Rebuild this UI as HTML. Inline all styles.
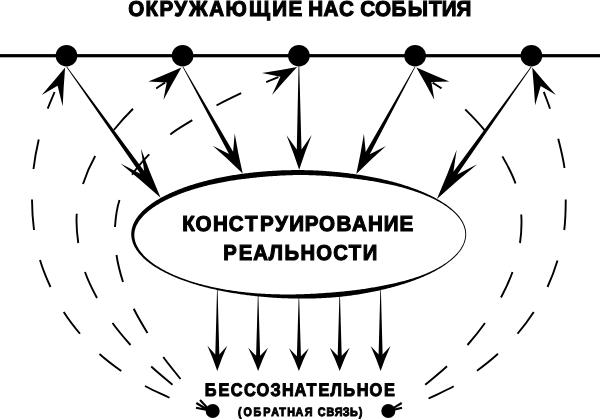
<!DOCTYPE html>
<html><head><meta charset="utf-8"><title>Конструирование реальности</title>
<style>
html,body{margin:0;padding:0;background:#fff;}
svg{display:block;}
text{font-family:"Liberation Sans",sans-serif;font-weight:bold;fill:#000;text-rendering:geometricPrecision;}
</style></head><body>
<svg width="600" height="419" viewBox="0 0 600 419">
<rect width="600" height="419" fill="#fff"/>
<g fill="#000">
<rect x="0" y="54.1" width="600" height="3.2" />
<circle cx="66.5" cy="55.7" r="10.8"/>
<circle cx="182.6" cy="55.7" r="10.8"/>
<circle cx="298.9" cy="55.7" r="10.8"/>
<circle cx="415.1" cy="55.7" r="10.8"/>
<circle cx="531.4" cy="55.7" r="10.8"/>
<path fill-rule="evenodd" d="M466.17,234.1 L466.16,233.56 L466.14,233.02 L466.1,232.49 L466.05,231.95 L465.99,231.41 L465.92,230.88 L465.84,230.34 L465.74,229.8 L465.63,229.27 L465.51,228.73 L465.37,228.2 L465.23,227.66 L465.07,227.13 L464.89,226.6 L464.71,226.06 L464.51,225.53 L464.3,225 L464.08,224.47 L463.85,223.94 L463.6,223.41 L463.35,222.88 L463.07,222.35 L462.79,221.82 L462.5,221.29 L462.19,220.77 L461.87,220.24 L461.54,219.72 L461.19,219.19 L460.84,218.67 L460.47,218.15 L460.09,217.63 L459.7,217.11 L459.29,216.59 L458.88,216.07 L458.45,215.56 L458.01,215.04 L457.55,214.53 L457.09,214.02 L456.61,213.5 L456.12,212.99 L455.62,212.49 L455.11,211.98 L454.58,211.47 L454.05,210.97 L453.5,210.47 L452.94,209.97 L452.37,209.47 L451.78,208.97 L451.19,208.48 L450.58,207.98 L449.96,207.49 L449.33,207 L448.69,206.51 L448.04,206.02 L447.38,205.54 L446.71,205.05 L446.02,204.57 L445.32,204.09 L444.62,203.61 L443.9,203.14 L443.17,202.66 L442.43,202.19 L441.68,201.72 L440.92,201.25 L440.15,200.78 L439.36,200.32 L438.57,199.85 L437.77,199.39 L436.95,198.94 L436.13,198.48 L435.29,198.03 L434.45,197.57 L433.59,197.12 L432.73,196.68 L431.85,196.23 L430.96,195.79 L430.07,195.35 L429.16,194.91 L428.25,194.48 L427.32,194.04 L426.38,193.62 L425.44,193.19 L424.48,192.76 L423.52,192.34 L422.55,191.92 L421.56,191.51 L420.57,191.09 L419.57,190.68 L418.56,190.27 L417.53,189.87 L416.5,189.47 L415.47,189.07 L414.42,188.67 L413.36,188.28 L412.3,187.89 L411.22,187.51 L410.14,187.13 L409.05,186.75 L407.95,186.37 L406.84,186 L405.72,185.64 L404.59,185.27 L403.46,184.91 L402.32,184.56 L401.17,184.21 L400.01,183.86 L398.85,183.51 L397.67,183.17 L396.49,182.84 L395.3,182.5 L394.11,182.17 L392.9,181.85 L391.69,181.53 L390.47,181.21 L389.25,180.9 L388.02,180.59 L386.78,180.29 L385.53,179.99 L384.28,179.69 L383.02,179.4 L381.76,179.11 L380.48,178.82 L379.21,178.55 L377.92,178.27 L376.63,178 L375.33,177.73 L374.03,177.47 L372.72,177.21 L371.41,176.95 L370.09,176.7 L368.77,176.46 L367.44,176.22 L366.1,175.98 L364.76,175.75 L363.41,175.52 L362.06,175.29 L360.71,175.07 L359.35,174.86 L357.98,174.65 L356.61,174.44 L355.24,174.24 L353.86,174.04 L352.48,173.85 L351.09,173.66 L349.7,173.48 L348.3,173.3 L346.9,173.12 L345.5,172.95 L344.09,172.79 L342.68,172.63 L341.27,172.47 L339.85,172.32 L338.44,172.17 L337.01,172.03 L335.59,171.89 L334.16,171.76 L332.73,171.63 L331.29,171.51 L329.86,171.39 L328.42,171.27 L326.98,171.16 L325.53,171.06 L324.09,170.96 L322.64,170.87 L321.19,170.78 L319.74,170.7 L318.29,170.62 L316.83,170.54 L315.38,170.48 L313.92,170.41 L312.46,170.36 L311,170.3 L309.54,170.26 L308.08,170.22 L306.62,170.18 L305.15,170.15 L303.69,170.12 L302.23,170.1 L300.76,170.09 L299.3,170.08 L297.84,170.07 L296.37,170.07 L294.91,170.08 L293.44,170.09 L291.98,170.1 L290.52,170.13 L289.06,170.15 L287.6,170.18 L286.14,170.22 L284.68,170.26 L283.22,170.31 L281.76,170.36 L280.3,170.42 L278.85,170.49 L277.4,170.55 L275.95,170.63 L274.5,170.71 L273.05,170.79 L271.61,170.88 L270.16,170.97 L268.72,171.07 L267.28,171.18 L265.85,171.29 L264.41,171.4 L262.98,171.52 L261.55,171.64 L260.13,171.77 L258.71,171.9 L257.29,172.04 L255.87,172.18 L254.46,172.33 L253.05,172.48 L251.64,172.64 L250.24,172.8 L248.84,172.97 L247.45,173.14 L246.06,173.31 L244.67,173.49 L243.29,173.68 L241.91,173.87 L240.54,174.06 L239.17,174.26 L237.8,174.46 L236.44,174.67 L235.09,174.88 L233.74,175.1 L232.39,175.32 L231.05,175.54 L229.71,175.77 L228.38,176.01 L227.06,176.24 L225.74,176.49 L224.43,176.73 L223.12,176.99 L221.82,177.24 L220.52,177.5 L219.23,177.77 L217.95,178.04 L216.67,178.31 L215.4,178.59 L214.14,178.87 L212.88,179.16 L211.62,179.45 L210.38,179.74 L209.14,180.04 L207.91,180.34 L206.68,180.65 L205.47,180.96 L204.26,181.27 L203.05,181.59 L201.86,181.92 L200.67,182.24 L199.49,182.57 L198.32,182.91 L197.15,183.25 L195.99,183.59 L194.84,183.93 L193.7,184.28 L192.57,184.64 L191.44,185 L190.32,185.36 L189.21,185.72 L188.11,186.09 L187.02,186.46 L185.94,186.84 L184.86,187.22 L183.79,187.6 L182.74,187.99 L181.69,188.38 L180.65,188.77 L179.62,189.17 L178.59,189.57 L177.58,189.98 L176.58,190.38 L175.58,190.79 L174.6,191.21 L173.63,191.63 L172.66,192.05 L171.7,192.47 L170.76,192.9 L169.82,193.33 L168.89,193.76 L167.98,194.2 L167.07,194.64 L166.17,195.08 L165.29,195.52 L164.41,195.97 L163.54,196.42 L162.69,196.87 L161.84,197.33 L161.01,197.79 L160.18,198.25 L159.37,198.71 L158.56,199.18 L157.77,199.65 L156.99,200.12 L156.22,200.59 L155.46,201.07 L154.71,201.55 L153.97,202.03 L153.24,202.51 L152.52,203 L151.82,203.49 L151.12,203.98 L150.44,204.47 L149.76,204.96 L149.1,205.46 L148.45,205.96 L147.81,206.46 L147.19,206.97 L146.57,207.47 L145.97,207.98 L145.37,208.49 L144.79,209 L144.22,209.51 L143.66,210.03 L143.12,210.55 L142.58,211.06 L142.06,211.59 L141.55,212.11 L141.05,212.63 L140.56,213.16 L140.08,213.68 L139.62,214.21 L139.17,214.75 L138.73,215.28 L138.3,215.81 L137.89,216.35 L137.49,216.88 L137.09,217.42 L136.72,217.96 L136.35,218.51 L136,219.05 L135.66,219.59 L135.33,220.14 L135.01,220.69 L134.71,221.23 L134.41,221.78 L134.13,222.33 L133.87,222.89 L133.61,223.44 L133.37,223.99 L133.14,224.55 L132.93,225.1 L132.73,225.66 L132.54,226.22 L132.36,226.78 L132.2,227.34 L132.05,227.9 L131.91,228.46 L131.78,229.02 L131.67,229.59 L131.57,230.15 L131.49,230.71 L131.42,231.28 L131.36,231.84 L131.31,232.41 L131.28,232.97 L131.26,233.53 L131.25,234.1 L131.26,234.67 L131.28,235.23 L131.31,235.79 L131.36,236.36 L131.42,236.92 L131.49,237.49 L131.57,238.05 L131.67,238.61 L131.78,239.18 L131.91,239.74 L132.05,240.3 L132.2,240.86 L132.36,241.42 L132.54,241.98 L132.73,242.54 L132.93,243.1 L133.14,243.65 L133.37,244.21 L133.61,244.76 L133.87,245.31 L134.13,245.87 L134.41,246.42 L134.71,246.97 L135.01,247.51 L135.33,248.06 L135.66,248.61 L136,249.15 L136.35,249.69 L136.72,250.24 L137.09,250.78 L137.49,251.32 L137.89,251.85 L138.3,252.39 L138.73,252.92 L139.17,253.45 L139.62,253.99 L140.08,254.52 L140.56,255.04 L141.05,255.57 L141.55,256.09 L142.06,256.61 L142.58,257.14 L143.12,257.65 L143.66,258.17 L144.22,258.69 L144.79,259.2 L145.37,259.71 L145.97,260.22 L146.57,260.73 L147.19,261.23 L147.81,261.74 L148.45,262.24 L149.1,262.74 L149.76,263.24 L150.44,263.73 L151.12,264.22 L151.82,264.71 L152.52,265.2 L153.24,265.69 L153.97,266.17 L154.71,266.65 L155.46,267.13 L156.22,267.61 L156.99,268.08 L157.77,268.55 L158.56,269.02 L159.37,269.49 L160.18,269.95 L161.01,270.41 L161.84,270.87 L162.69,271.33 L163.54,271.78 L164.41,272.23 L165.29,272.68 L166.17,273.12 L167.07,273.56 L167.98,274 L168.89,274.44 L169.82,274.87 L170.76,275.3 L171.7,275.73 L172.66,276.15 L173.63,276.57 L174.6,276.99 L175.58,277.41 L176.58,277.82 L177.58,278.22 L178.59,278.63 L179.62,279.03 L180.65,279.43 L181.69,279.82 L182.74,280.21 L183.79,280.6 L184.86,280.98 L185.94,281.36 L187.02,281.74 L188.11,282.11 L189.21,282.48 L190.32,282.84 L191.44,283.2 L192.57,283.56 L193.7,283.92 L194.84,284.27 L195.99,284.61 L197.15,284.95 L198.32,285.29 L199.49,285.63 L200.67,285.96 L201.86,286.28 L203.05,286.61 L204.26,286.93 L205.47,287.24 L206.68,287.55 L207.91,287.86 L209.14,288.16 L210.38,288.46 L211.62,288.75 L212.88,289.04 L214.14,289.33 L215.4,289.61 L216.67,289.89 L217.95,290.16 L219.23,290.43 L220.52,290.7 L221.82,290.96 L223.12,291.22 L224.43,291.47 L225.74,291.72 L227.06,291.97 L228.38,292.21 L229.71,292.44 L231.05,292.68 L232.39,292.91 L233.73,293.13 L235.08,293.35 L236.44,293.57 L237.8,293.78 L239.16,293.98 L240.53,294.19 L241.9,294.39 L243.28,294.58 L244.66,294.77 L246.05,294.96 L247.44,295.14 L248.83,295.31 L250.23,295.49 L251.63,295.65 L253.04,295.82 L254.45,295.98 L255.86,296.13 L257.27,296.28 L258.69,296.43 L260.12,296.57 L261.54,296.71 L262.97,296.84 L264.4,296.97 L265.83,297.09 L267.27,297.21 L268.71,297.32 L270.15,297.43 L271.59,297.54 L273.04,297.64 L274.48,297.73 L275.93,297.82 L277.38,297.91 L278.84,297.99 L280.29,298.07 L281.75,298.14 L283.21,298.2 L284.66,298.26 L286.12,298.32 L287.59,298.37 L289.05,298.42 L290.51,298.46 L291.97,298.5 L293.44,298.53 L294.9,298.56 L296.37,298.58 L297.83,298.6 L299.3,298.61 L300.77,298.62 L302.23,298.62 L303.7,298.62 L305.16,298.61 L306.63,298.6 L308.09,298.59 L309.56,298.56 L311.02,298.54 L312.48,298.51 L313.94,298.47 L315.4,298.42 L316.86,298.37 L318.32,298.32 L319.77,298.26 L321.23,298.19 L322.68,298.12 L324.13,298.04 L325.58,297.96 L327.03,297.87 L328.47,297.77 L329.92,297.67 L331.36,297.56 L332.8,297.45 L334.23,297.33 L335.66,297.2 L337.09,297.07 L338.52,296.94 L339.94,296.8 L341.36,296.65 L342.78,296.5 L344.19,296.34 L345.6,296.17 L347.01,296 L348.41,295.83 L349.81,295.65 L351.2,295.46 L352.59,295.27 L353.98,295.07 L355.36,294.87 L356.74,294.66 L358.11,294.45 L359.48,294.23 L360.84,294 L362.2,293.77 L363.55,293.54 L364.9,293.3 L366.24,293.06 L367.58,292.81 L368.91,292.56 L370.23,292.3 L371.55,292.04 L372.87,291.77 L374.18,291.5 L375.48,291.23 L376.78,290.95 L378.07,290.67 L379.36,290.39 L380.64,290.1 L381.91,289.8 L383.18,289.51 L384.44,289.21 L385.69,288.9 L386.94,288.6 L388.18,288.28 L389.41,287.97 L390.64,287.65 L391.86,287.33 L393.07,287 L394.28,286.67 L395.47,286.34 L396.67,286 L397.85,285.66 L399.02,285.32 L400.19,284.97 L401.35,284.62 L402.51,284.27 L403.65,283.91 L404.79,283.55 L405.92,283.19 L407.04,282.82 L408.15,282.45 L409.25,282.08 L410.35,281.7 L411.44,281.32 L412.52,280.93 L413.58,280.55 L414.65,280.15 L415.7,279.76 L416.74,279.36 L417.77,278.96 L418.8,278.55 L419.81,278.14 L420.82,277.73 L421.82,277.32 L422.8,276.9 L423.78,276.48 L424.75,276.05 L425.71,275.62 L426.66,275.19 L427.59,274.76 L428.52,274.32 L429.44,273.88 L430.35,273.44 L431.25,272.99 L432.14,272.54 L433.01,272.09 L433.88,271.64 L434.74,271.18 L435.59,270.72 L436.42,270.26 L437.25,269.8 L438.07,269.33 L438.87,268.86 L439.66,268.39 L440.45,267.92 L441.22,267.44 L441.98,266.97 L442.73,266.49 L443.47,266 L444.2,265.52 L444.92,265.03 L445.63,264.54 L446.32,264.05 L447,263.56 L447.68,263.07 L448.34,262.57 L448.99,262.07 L449.63,261.57 L450.25,261.07 L450.87,260.57 L451.47,260.06 L452.06,259.56 L452.64,259.05 L453.21,258.54 L453.77,258.03 L454.31,257.51 L454.85,257 L455.37,256.48 L455.88,255.97 L456.38,255.45 L456.86,254.93 L457.34,254.41 L457.8,253.89 L458.25,253.36 L458.68,252.84 L459.11,252.31 L459.52,251.79 L459.92,251.26 L460.31,250.73 L460.69,250.2 L461.05,249.67 L461.4,249.14 L461.74,248.61 L462.07,248.08 L462.38,247.54 L462.68,247.01 L462.97,246.47 L463.25,245.94 L463.51,245.4 L463.76,244.87 L464,244.33 L464.23,243.79 L464.44,243.26 L464.65,242.72 L464.84,242.18 L465.01,241.64 L465.18,241.1 L465.33,240.57 L465.47,240.03 L465.59,239.49 L465.71,238.95 L465.81,238.41 L465.9,237.87 L465.97,237.33 L466.04,236.79 L466.09,236.25 L466.13,235.72 L466.16,235.18 L466.17,234.64 Z M465.26,234.62 L465.25,235.14 L465.22,235.65 L465.19,236.17 L465.14,236.69 L465.08,237.21 L465.01,237.73 L464.92,238.25 L464.82,238.77 L464.72,239.29 L464.59,239.81 L464.46,240.33 L464.31,240.85 L464.16,241.37 L463.98,241.89 L463.8,242.41 L463.61,242.93 L463.4,243.45 L463.18,243.97 L462.95,244.49 L462.7,245.01 L462.44,245.53 L462.17,246.05 L461.89,246.57 L461.59,247.09 L461.29,247.6 L460.97,248.12 L460.63,248.64 L460.29,249.16 L459.93,249.67 L459.56,250.19 L459.17,250.7 L458.78,251.21 L458.37,251.72 L457.95,252.23 L457.52,252.74 L457.07,253.25 L456.62,253.76 L456.15,254.27 L455.66,254.77 L455.17,255.27 L454.66,255.77 L454.15,256.28 L453.62,256.77 L453.07,257.27 L452.52,257.77 L451.96,258.26 L451.38,258.76 L450.79,259.25 L450.19,259.74 L449.58,260.23 L448.96,260.72 L448.32,261.21 L447.68,261.69 L447.02,262.17 L446.35,262.65 L445.67,263.13 L444.98,263.6 L444.27,264.07 L443.56,264.54 L442.83,265.01 L442.09,265.47 L441.34,265.93 L440.57,266.39 L439.8,266.84 L439.02,267.29 L438.22,267.74 L437.41,268.18 L436.6,268.62 L435.77,269.06 L434.93,269.49 L434.08,269.92 L433.22,270.35 L432.35,270.77 L431.47,271.19 L430.57,271.61 L429.67,272.02 L428.76,272.43 L427.83,272.84 L426.9,273.24 L425.96,273.63 L425,274.02 L424.04,274.41 L423.07,274.8 L422.09,275.18 L421.09,275.55 L420.09,275.92 L419.08,276.29 L418.06,276.65 L417.03,277.01 L415.99,277.36 L414.94,277.71 L413.88,278.05 L412.82,278.39 L411.74,278.72 L410.66,279.05 L409.56,279.37 L408.46,279.69 L407.35,280.01 L406.24,280.32 L405.11,280.63 L403.98,280.93 L402.83,281.22 L401.68,281.52 L400.53,281.81 L399.36,282.09 L398.19,282.37 L397.01,282.65 L395.83,282.93 L394.64,283.2 L393.44,283.47 L392.23,283.74 L391.02,284 L389.8,284.26 L388.57,284.52 L387.34,284.78 L386.1,285.03 L384.86,285.28 L383.61,285.53 L382.35,285.77 L381.09,286.01 L379.82,286.25 L378.55,286.49 L377.27,286.72 L375.98,286.95 L374.69,287.18 L373.4,287.4 L372.1,287.62 L370.79,287.84 L369.48,288.05 L368.16,288.27 L366.84,288.47 L365.51,288.68 L364.18,288.88 L362.84,289.08 L361.5,289.27 L360.15,289.45 L358.8,289.64 L357.45,289.81 L356.09,289.98 L354.72,290.15 L353.35,290.32 L351.98,290.48 L350.6,290.64 L349.22,290.8 L347.84,290.95 L346.45,291.1 L345.06,291.24 L343.67,291.38 L342.27,291.52 L340.87,291.66 L339.47,291.79 L338.06,291.92 L336.65,292.04 L335.24,292.16 L333.82,292.29 L332.4,292.4 L330.98,292.52 L329.56,292.63 L328.14,292.75 L326.71,292.86 L325.28,292.97 L323.85,293.07 L322.42,293.18 L320.98,293.28 L319.55,293.37 L318.11,293.47 L316.67,293.56 L315.23,293.64 L313.78,293.72 L312.34,293.8 L310.89,293.87 L309.45,293.94 L308,294 L306.55,294.06 L305.1,294.12 L303.65,294.17 L302.2,294.22 L300.75,294.26 L299.3,294.31 L297.85,294.34 L296.4,294.37 L294.95,294.4 L293.49,294.42 L292.04,294.44 L290.59,294.45 L289.14,294.46 L287.69,294.46 L286.24,294.46 L284.79,294.45 L283.34,294.44 L281.9,294.42 L280.45,294.4 L279.01,294.37 L277.56,294.34 L276.12,294.3 L274.68,294.26 L273.24,294.21 L271.81,294.16 L270.37,294.1 L268.94,294.04 L267.51,293.97 L266.08,293.9 L264.65,293.83 L263.23,293.75 L261.81,293.66 L260.39,293.58 L258.97,293.48 L257.56,293.38 L256.15,293.28 L254.74,293.17 L253.34,293.06 L251.94,292.94 L250.54,292.81 L249.15,292.68 L247.76,292.55 L246.37,292.41 L244.99,292.26 L243.61,292.11 L242.24,291.95 L240.87,291.79 L239.51,291.63 L238.15,291.45 L236.79,291.28 L235.44,291.1 L234.09,290.91 L232.75,290.72 L231.41,290.52 L230.08,290.32 L228.76,290.11 L227.44,289.9 L226.12,289.68 L224.81,289.45 L223.51,289.22 L222.21,288.99 L220.92,288.75 L219.63,288.51 L218.35,288.26 L217.08,288.01 L215.81,287.75 L214.55,287.49 L213.3,287.22 L212.05,286.95 L210.81,286.67 L209.57,286.39 L208.34,286.11 L207.12,285.82 L205.91,285.52 L204.7,285.22 L203.51,284.92 L202.31,284.61 L201.13,284.3 L199.95,283.98 L198.79,283.66 L197.62,283.33 L196.47,283.01 L195.33,282.67 L194.19,282.34 L193.06,282 L191.94,281.65 L190.82,281.3 L189.72,280.95 L188.62,280.59 L187.54,280.23 L186.46,279.86 L185.39,279.49 L184.33,279.12 L183.28,278.74 L182.24,278.35 L181.21,277.96 L180.18,277.57 L179.17,277.17 L178.17,276.77 L177.17,276.37 L176.19,275.96 L175.21,275.55 L174.25,275.13 L173.29,274.71 L172.35,274.29 L171.41,273.86 L170.49,273.43 L169.58,272.99 L168.67,272.55 L167.78,272.11 L166.9,271.67 L166.03,271.22 L165.16,270.77 L164.31,270.32 L163.47,269.87 L162.64,269.41 L161.82,268.95 L161.01,268.49 L160.21,268.02 L159.43,267.56 L158.65,267.09 L157.89,266.62 L157.13,266.14 L156.39,265.66 L155.66,265.18 L154.94,264.7 L154.23,264.21 L153.54,263.73 L152.85,263.24 L152.18,262.74 L151.52,262.25 L150.87,261.75 L150.24,261.25 L149.62,260.75 L149,260.25 L148.4,259.75 L147.82,259.24 L147.24,258.73 L146.68,258.22 L146.13,257.71 L145.6,257.19 L145.07,256.68 L144.56,256.16 L144.06,255.65 L143.58,255.13 L143.1,254.61 L142.64,254.09 L142.19,253.57 L141.76,253.05 L141.33,252.53 L140.92,252.01 L140.52,251.49 L140.14,250.97 L139.76,250.44 L139.4,249.92 L139.06,249.4 L138.72,248.88 L138.4,248.36 L138.09,247.84 L137.79,247.32 L137.5,246.8 L137.23,246.28 L136.97,245.76 L136.72,245.24 L136.48,244.73 L136.26,244.21 L136.05,243.7 L135.85,243.18 L135.66,242.67 L135.49,242.15 L135.33,241.64 L135.18,241.13 L135.04,240.62 L134.92,240.11 L134.8,239.61 L134.7,239.1 L134.61,238.59 L134.54,238.09 L134.47,237.59 L134.42,237.09 L134.38,236.59 L134.35,236.09 L134.33,235.59 L134.33,235.09 L134.33,234.59 L134.35,234.1 L134.38,233.61 L134.42,233.11 L134.47,232.62 L134.54,232.13 L134.61,231.64 L134.7,231.15 L134.8,230.66 L134.9,230.18 L135.03,229.69 L135.16,229.2 L135.3,228.72 L135.46,228.24 L135.62,227.75 L135.8,227.27 L135.99,226.79 L136.19,226.3 L136.4,225.82 L136.62,225.34 L136.86,224.86 L137.1,224.38 L137.36,223.9 L137.63,223.42 L137.91,222.94 L138.2,222.46 L138.5,221.98 L138.81,221.5 L139.14,221.02 L139.47,220.54 L139.82,220.07 L140.18,219.59 L140.55,219.11 L140.93,218.63 L141.32,218.15 L141.73,217.68 L142.14,217.2 L142.57,216.72 L143.01,216.25 L143.46,215.77 L143.92,215.29 L144.39,214.82 L144.88,214.34 L145.37,213.87 L145.88,213.4 L146.4,212.92 L146.93,212.45 L147.47,211.98 L148.03,211.51 L148.59,211.04 L149.17,210.58 L149.76,210.11 L150.36,209.64 L150.97,209.18 L151.6,208.72 L152.23,208.26 L152.88,207.8 L153.54,207.34 L154.21,206.89 L154.89,206.43 L155.58,205.98 L156.28,205.53 L157,205.08 L157.72,204.63 L158.46,204.19 L159.21,203.74 L159.96,203.3 L160.73,202.87 L161.51,202.43 L162.31,202 L163.11,201.56 L163.92,201.13 L164.74,200.71 L165.58,200.28 L166.42,199.86 L167.27,199.44 L168.14,199.02 L169.01,198.61 L169.9,198.2 L170.8,197.79 L171.7,197.38 L172.62,196.98 L173.54,196.58 L174.48,196.18 L175.42,195.79 L176.38,195.39 L177.34,195 L178.31,194.62 L179.3,194.23 L180.29,193.85 L181.29,193.47 L182.3,193.1 L183.32,192.72 L184.35,192.35 L185.38,191.99 L186.43,191.62 L187.48,191.26 L188.55,190.91 L189.62,190.55 L190.7,190.2 L191.79,189.85 L192.89,189.51 L193.99,189.17 L195.11,188.83 L196.23,188.5 L197.36,188.17 L198.5,187.84 L199.64,187.52 L200.8,187.2 L201.96,186.88 L203.13,186.57 L204.3,186.26 L205.49,185.96 L206.68,185.66 L207.88,185.37 L209.08,185.08 L210.3,184.79 L211.52,184.51 L212.75,184.23 L213.98,183.96 L215.22,183.69 L216.47,183.43 L217.72,183.17 L218.98,182.91 L220.25,182.66 L221.52,182.42 L222.8,182.17 L224.08,181.94 L225.37,181.7 L226.67,181.47 L227.97,181.25 L229.28,181.03 L230.59,180.81 L231.91,180.6 L233.23,180.4 L234.56,180.19 L235.89,179.99 L237.23,179.8 L238.58,179.61 L239.92,179.42 L241.27,179.24 L242.63,179.06 L243.99,178.88 L245.36,178.71 L246.73,178.55 L248.1,178.38 L249.47,178.23 L250.86,178.07 L252.24,177.92 L253.63,177.78 L255.02,177.63 L256.41,177.49 L257.81,177.36 L259.21,177.22 L260.62,177.09 L262.02,176.96 L263.43,176.84 L264.84,176.72 L266.26,176.6 L267.68,176.48 L269.1,176.37 L270.52,176.27 L271.94,176.16 L273.37,176.06 L274.8,175.97 L276.23,175.88 L277.66,175.79 L279.1,175.7 L280.53,175.62 L281.97,175.55 L283.41,175.48 L284.85,175.41 L286.29,175.35 L287.73,175.29 L289.18,175.24 L290.62,175.19 L292.07,175.15 L293.51,175.12 L294.96,175.09 L296.41,175.07 L297.85,175.05 L299.3,175.04 L300.75,175.03 L302.19,175.04 L303.64,175.04 L305.09,175.06 L306.54,175.08 L307.98,175.1 L309.43,175.13 L310.87,175.17 L312.31,175.21 L313.76,175.26 L315.2,175.32 L316.64,175.38 L318.08,175.44 L319.51,175.51 L320.95,175.59 L322.38,175.67 L323.81,175.75 L325.24,175.84 L326.67,175.93 L328.1,176.03 L329.52,176.13 L330.94,176.24 L332.36,176.35 L333.78,176.47 L335.19,176.59 L336.6,176.71 L338.01,176.84 L339.41,176.97 L340.81,177.11 L342.21,177.25 L343.61,177.39 L345,177.53 L346.39,177.68 L347.77,177.83 L349.15,177.99 L350.53,178.14 L351.91,178.3 L353.28,178.47 L354.64,178.64 L356,178.81 L357.36,178.98 L358.72,179.16 L360.07,179.34 L361.41,179.52 L362.75,179.71 L364.09,179.9 L365.42,180.09 L366.74,180.29 L368.06,180.49 L369.38,180.69 L370.69,180.89 L372,181.1 L373.3,181.31 L374.6,181.53 L375.89,181.74 L377.17,181.97 L378.45,182.19 L379.72,182.42 L380.99,182.66 L382.25,182.9 L383.5,183.14 L384.75,183.39 L385.99,183.64 L387.23,183.89 L388.46,184.15 L389.68,184.42 L390.89,184.68 L392.1,184.96 L393.3,185.23 L394.5,185.51 L395.68,185.8 L396.86,186.09 L398.04,186.38 L399.2,186.68 L400.36,186.98 L401.5,187.29 L402.65,187.6 L403.78,187.91 L404.9,188.23 L406.02,188.55 L407.13,188.88 L408.23,189.21 L409.32,189.54 L410.4,189.88 L411.48,190.23 L412.55,190.57 L413.6,190.92 L414.65,191.28 L415.69,191.64 L416.72,192 L417.74,192.36 L418.76,192.73 L419.76,193.1 L420.76,193.47 L421.74,193.85 L422.72,194.22 L423.69,194.6 L424.65,194.99 L425.6,195.38 L426.54,195.77 L427.47,196.16 L428.38,196.56 L429.29,196.96 L430.19,197.37 L431.08,197.77 L431.96,198.19 L432.83,198.6 L433.69,199.02 L434.54,199.44 L435.37,199.87 L436.2,200.29 L437.01,200.73 L437.82,201.16 L438.61,201.6 L439.4,202.04 L440.17,202.48 L440.93,202.93 L441.68,203.37 L442.42,203.83 L443.14,204.28 L443.86,204.74 L444.56,205.2 L445.26,205.66 L445.94,206.12 L446.61,206.59 L447.27,207.05 L447.92,207.52 L448.56,207.99 L449.18,208.46 L449.8,208.94 L450.4,209.41 L451,209.89 L451.58,210.37 L452.14,210.85 L452.7,211.33 L453.25,211.82 L453.78,212.3 L454.3,212.79 L454.81,213.28 L455.31,213.77 L455.79,214.26 L456.26,214.76 L456.73,215.25 L457.17,215.75 L457.61,216.25 L458.03,216.75 L458.45,217.25 L458.85,217.75 L459.23,218.25 L459.61,218.75 L459.97,219.26 L460.32,219.76 L460.66,220.27 L460.99,220.77 L461.3,221.28 L461.61,221.79 L461.9,222.3 L462.17,222.81 L462.44,223.32 L462.7,223.83 L462.94,224.34 L463.17,224.85 L463.39,225.36 L463.59,225.87 L463.79,226.38 L463.97,226.89 L464.14,227.4 L464.3,227.92 L464.45,228.43 L464.58,228.94 L464.7,229.46 L464.81,229.97 L464.91,230.49 L465,231 L465.07,231.52 L465.13,232.03 L465.18,232.55 L465.22,233.07 L465.24,233.58 L465.26,234.1 Z"/>
<path d="M66.32,67 L140.36,173.63 L120.47,163.49 Q141.1,180.24 160.6,197.8 Q150.2,173.71 140.95,148.8 L144.18,170.88 L66.88,66.6 Z"/>
<path d="M182.69,66.97 L229.01,153.92 L212.72,145.79 Q228.32,159.35 242.7,173.6 Q238.1,153.89 234.71,133.49 L233.11,151.63 L183.31,66.63 Z"/>
<path d="M298.55,66.3 L296.79,149.62 L286.5,135.16 Q293.55,152.48 299.2,169.8 Q304.75,152.45 311.7,135.09 L301.49,149.61 L299.25,66.3 Z"/>
<path d="M414.69,66.63 L365.69,151.89 L363.92,133.79 Q360.72,154.18 356.3,173.9 Q370.54,159.56 386.02,145.9 L369.81,154.14 L415.31,66.97 Z"/>
<path d="M531.02,66.6 L453.4,171.86 L456.67,149.64 Q447.35,174.73 436.9,199 Q456.47,181.23 477.17,164.28 L457.22,174.59 L531.58,67 Z"/>
<path d="M217.05,288.52 L215.3,354.5 L207.4,345.85 Q213.05,358.42 217.3,371 Q221.55,358.42 227.2,345.85 L219.3,354.5 L217.55,288.52 Z"/>
<path d="M257.85,294.74 L256.1,355.75 L248.2,347.74 Q253.85,359.37 258.1,371 Q262.35,359.37 268,347.74 L260.1,355.75 L258.35,294.74 Z"/>
<path d="M298.65,296.7 L296.9,356.14 L289,348.34 Q294.65,359.67 298.9,371 Q303.15,359.67 308.8,348.34 L300.9,356.14 L299.15,296.7 Z"/>
<path d="M339.45,294.81 L337.7,355.76 L329.8,347.76 Q335.45,359.38 339.7,371 Q343.95,359.38 349.6,347.76 L341.7,355.76 L339.95,294.81 Z"/>
<path d="M380.35,288.67 L378.6,354.53 L370.7,345.89 Q376.35,358.45 380.6,371 Q384.85,358.45 390.5,345.89 L382.6,354.53 L380.85,288.67 Z"/>
<path d="M65.1,67.6 Q53.64,81.6 41.7,95.1 L57.6,85.7 L62.7,106.2 Q63.56,86.83 65.1,67.6 Z"/>
<path d="M181.4,67.6 Q164.98,74.84 148.4,81.4 L166.7,82.6 L163.4,100.1 Q172.06,83.78 181.4,67.6 Z"/>
<path d="M297.1,67.05 Q279.59,70.42 262,73.1 L280.4,76.7 L272.05,95.1 Q284.33,80.82 297.1,67.05 Z"/>
<path d="M416.4,67.6 Q432.78,74.84 449.3,81.4 L431.4,82.1 L434.3,99.8 Q425.69,83.61 416.4,67.6 Z"/>
<path d="M532.2,67.5 Q543.9,81.59 556,95.1 L540.7,86.1 L535.1,105.3 Q534,86.39 532.2,67.5 Z"/>
<path d="M169.5,397.75 C161.33,393.83 152.92,390.37 145,386 M121.25,371 C113.74,365.71 106.32,360.14 99.5,354 M80,333.75 C74.16,326.86 68.59,319.62 63.75,312 M50.5,287 C46.48,278.24 42.72,269.23 40,260 M34,230 C32.67,219.92 32.08,209.67 32,199.5 M33.5,169 C34.63,159.1 36.5,149.22 38.75,139.5 M47.7,108.7 C49.78,103.06 52.3,97.57 54.6,92" fill="none" stroke="#000" stroke-width="1.9"/>
<path d="M172.5,384.75 C165.42,378.67 158.04,372.89 151.25,366.5 M130.5,345 C124.22,337.92 118.01,330.69 112.5,323 M97,298 C92.49,289.61 88.1,280.98 85,272 M78.25,243 C76.9,233.37 76.02,223.4 76.75,213.75 M83,184 C86.08,174.35 90.23,164.82 95.2,156 M113.8,130 C119.8,122.58 126.22,115.41 133,108.7 M156.2,88.4 C159.06,86.37 162.07,84.53 165,82.6" fill="none" stroke="#000" stroke-width="1.9"/>
<path d="M180.5,379 C174.75,371.67 168.69,364.56 163.25,357 M147.5,333 C142.66,325.07 137.78,317.1 133.75,308.75 M123,282 C120.2,273.2 117.83,264.12 116.5,255 M115,227 C115.52,217.95 116.74,208.59 119.5,200 M132.1,174.7 C136.97,167.34 143.22,160.77 149.3,154.3 M170.3,134.4 C177.17,129.04 184.89,124.75 192.3,120.1 M216.5,105.5 C224.56,101.08 232.88,97.12 241.2,93.2 M266.2,82.1 C270.25,80.42 274.33,78.83 278.4,77.2" fill="none" stroke="#000" stroke-width="1.9"/>
<path d="M425.2,384.8 C432.47,378.6 440.04,372.73 447,366.2 M467.5,345 C473.67,337.96 479.58,330.63 485,323 M501,297.5 C505.37,289.29 509.39,280.75 512.5,272 M520,243 C521.37,233.64 521.86,223.93 521.25,214.5 M515.5,183.5 C512.37,174.06 507.39,165.07 502.4,156.4 M484.7,130.4 C478.74,122.97 472.01,116.08 465.2,109.4 M441.5,88.4 C438.61,86.36 435.57,84.53 432.6,82.6" fill="none" stroke="#000" stroke-width="1.9"/>
<path d="M428.5,398.5 C436.9,394.43 445.62,390.92 453.7,386.3 M477,370.75 C484.24,365.41 491.35,359.8 498,353.75 M517.5,333.75 C523.36,326.88 528.85,319.58 533.75,312 M547.5,287 C551.44,278.45 554.78,269.52 557.5,260.5 M564.25,230 C565.59,219.95 565.69,209.67 565.75,199.5 M564.5,168 C563.24,158.15 560.61,148.43 558.25,138.75 M550,108.7 C548.11,103.01 545.87,97.43 543.8,91.8" fill="none" stroke="#000" stroke-width="1.9"/>
<circle cx="212.7" cy="411" r="7"/>
<circle cx="388.3" cy="411" r="7"/>
<path d="M200,400 L208,408.5 M196.3,403 L207,409.5 M196,407.7 L207,410" stroke="#000" stroke-width="2.1" fill="none"/>
<path d="M392,408.8 L401.7,403 M393,410 L402,407.7" stroke="#000" stroke-width="2.1" fill="none"/>
<g style="will-change:transform">
<text transform="translate(0 16.25) scale(0.9559 1)" x="134.14 152.13 166.9 182.36 197.7 218.97 235.89 260.53 284.77 301.76 317.51 322.44 338.44 354.76 371.65 376.86 392.32 409.67 426.46 448.78 462.17 477.61" y="0" font-size="21.59" stroke="#000" stroke-width="1.1" stroke-linejoin="miter" stroke-miterlimit="2">ОКРУЖАЮЩИЕ НАС СОБЫТИЯ</text>
<text transform="translate(0 231.05) scale(0.9540 1)" x="190.99 204.98 223.22 239.75 256.74 272.59 288.19 303.12 319.52 334.47 352.71 368.95 385.8 402.32 418.72" y="0" font-size="21.59" stroke="#000" stroke-width="1.1" stroke-linejoin="miter" stroke-miterlimit="2">КОНСТРУИРОВАНИЕ</text>
<text transform="translate(0 260.25) scale(0.9382 1)" x="237.94 254.62 269.92 286.53 303.21 320.43 337.02 355.33 371.83 386.69" y="0" font-size="21.59" stroke="#000" stroke-width="1.1" stroke-linejoin="miter" stroke-miterlimit="2">РЕАЛЬНОСТИ</text>
<text transform="translate(0 396.25) scale(0.8948 1)" x="228.93 244.16 257.84 272.82 286.79 302.22 315.09 329.05 342.68 355.91 369.39 383.71 398.72 412.91 429.06" y="0" font-size="18.26" stroke="#000" stroke-width="1.0" stroke-linejoin="miter" stroke-miterlimit="2">БЕССОЗНАТЕЛЬНОЕ</text>
<text transform="translate(0 416.4) scale(0.8826 1)" x="269.62 275.79 287.37 298.35 307.27 316.43 325.35 334.86 345.37 354.64 360.05 369.96 379.28 388.22 396.51 406.47" y="0" font-size="12.17" stroke="#000" stroke-width="1.0" stroke-linejoin="miter" stroke-miterlimit="2">(ОБРАТНАЯ СВЯЗЬ)</text>
</g>
</g>
</svg>
</body></html>
